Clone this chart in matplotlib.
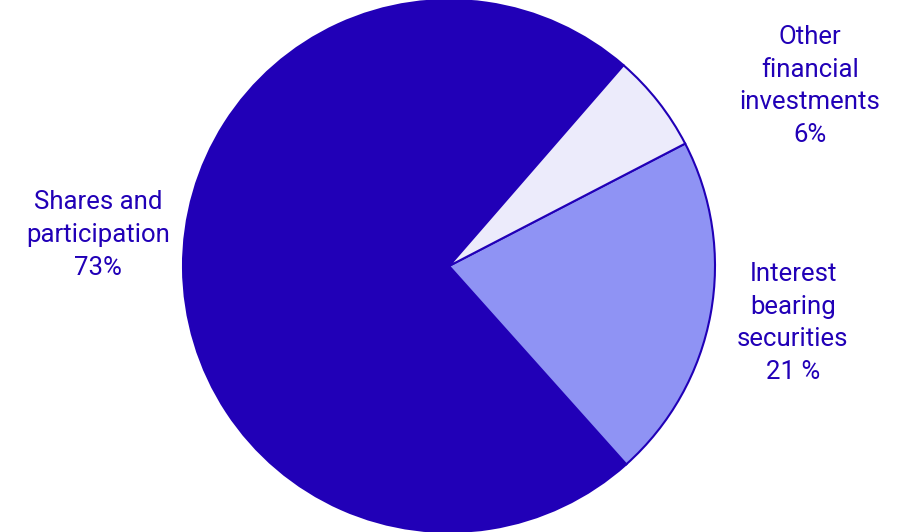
import matplotlib.pyplot as plt

# shares of the portfolio, in percent
labels = ["Shares and\nparticipation\n73%", "Interest\nbearing\nsecurities\n21 %",
          "Other\nfinancial\ninvestments\n6%"]
values = [73, 21, 6]
colors = ["#2100B7", "#8F93F4", "#ECEBFB"]

dark = "#2100B7"
W, H = 915, 532

fig = plt.figure(figsize=(W / 100, H / 100), dpi=100)
ax = fig.add_axes([0, 0, 1, 1])
ax.set_xlim(0, W)
ax.set_ylim(0, H)
ax.set_aspect("equal")
ax.axis("off")

ax.pie(values, colors=colors, startangle=49.0, counterclock=True,
       center=(449, H - 266), radius=266,
       wedgeprops={"edgecolor": dark, "linewidth": 1.5})

label_pos = [(98, H - 235), (793, H - 323), (810, H - 86)]
for text, (x, y) in zip(labels, label_pos):
    ax.text(x, y, text, ha="center", va="center", fontsize=18.5,
            family="Roboto", color=dark, linespacing=1.45)

ax.set_xlim(0, W)
ax.set_ylim(0, H)
fig.savefig("out.png", dpi=100)
